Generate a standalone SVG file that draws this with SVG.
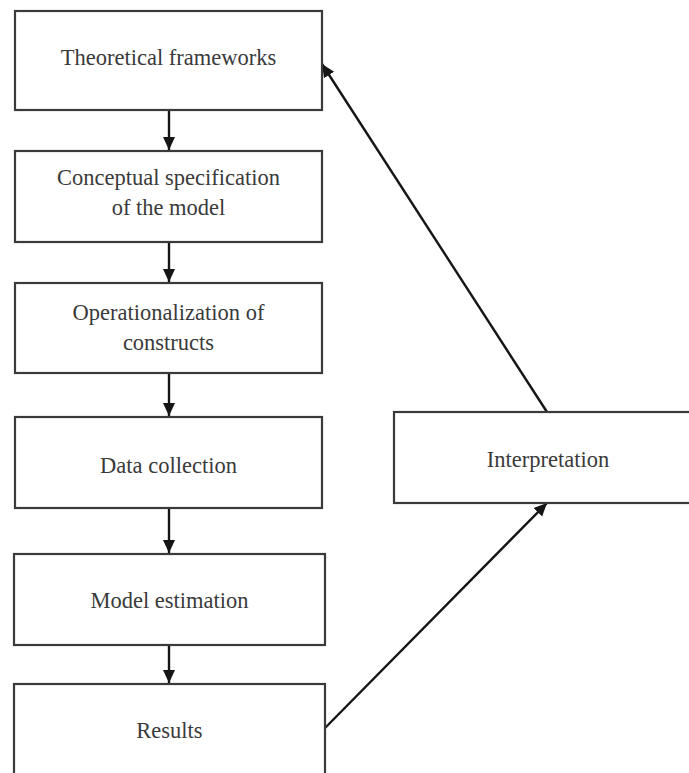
<svg xmlns="http://www.w3.org/2000/svg" width="689" height="773" viewBox="0 0 689 773">
  <style>
    .box { fill: #ffffff; stroke: #3a3a3a; stroke-width: 2.2; }
    .label { font-family: "Liberation Serif", "Times New Roman", "DejaVu Serif", serif; font-size: 22.5px; fill: #3a3a3a; text-anchor: middle; }
    .edge { fill: none; stroke: #151515; stroke-width: 2.4; marker-end: url(#arrow); }
  </style>
  <defs>
    <marker id="arrow" markerUnits="userSpaceOnUse" markerWidth="14" markerHeight="14" viewBox="0 0 14 14" refX="13" refY="7" orient="auto">
      <path d="M0,1 L13,7 L0,13 Z" fill="#151515"/>
    </marker>
  </defs>
  <rect width="689" height="773" fill="#ffffff"/>

  <!-- connectors: the main chain runs down the left column, the loop goes through Interpretation -->
  <g id="edges">
    <line class="edge" x1="169" y1="110" x2="169" y2="150"/>
    <line class="edge" x1="169" y1="242" x2="169" y2="282"/>
    <line class="edge" x1="169" y1="373" x2="169" y2="416"/>
    <line class="edge" x1="169" y1="508" x2="169" y2="553"/>
    <line class="edge" x1="169" y1="645" x2="169" y2="683"/>
    <line class="edge" x1="325" y1="728" x2="547" y2="503"/>
    <line class="edge" x1="547" y1="412" x2="322" y2="64"/>
  </g>

  <g id="theoretical-frameworks">
    <rect class="box" x="15" y="11" width="307" height="99"/>
    <text class="label" x="168.5" y="65">Theoretical frameworks</text>
  </g>
  <g id="conceptual-specification">
    <rect class="box" x="15" y="151" width="307" height="91"/>
    <text class="label" x="168.5" y="185">Conceptual specification</text>
    <text class="label" x="168.5" y="215">of the model</text>
  </g>
  <g id="operationalization">
    <rect class="box" x="15" y="283" width="307" height="90"/>
    <text class="label" x="168.5" y="320">Operationalization of</text>
    <text class="label" x="168.5" y="350">constructs</text>
  </g>
  <g id="data-collection">
    <rect class="box" x="15" y="417" width="307" height="91"/>
    <text class="label" x="168.5" y="473">Data collection</text>
  </g>
  <g id="model-estimation">
    <rect class="box" x="14" y="554" width="311" height="91"/>
    <text class="label" x="169.5" y="608">Model estimation</text>
  </g>
  <g id="results">
    <rect class="box" x="14" y="684" width="311" height="100"/>
    <text class="label" x="169.5" y="738">Results</text>
  </g>
  <g id="interpretation">
    <rect class="box" x="394" y="412" width="300" height="91"/>
    <text class="label" x="548" y="467">Interpretation</text>
  </g>
</svg>
